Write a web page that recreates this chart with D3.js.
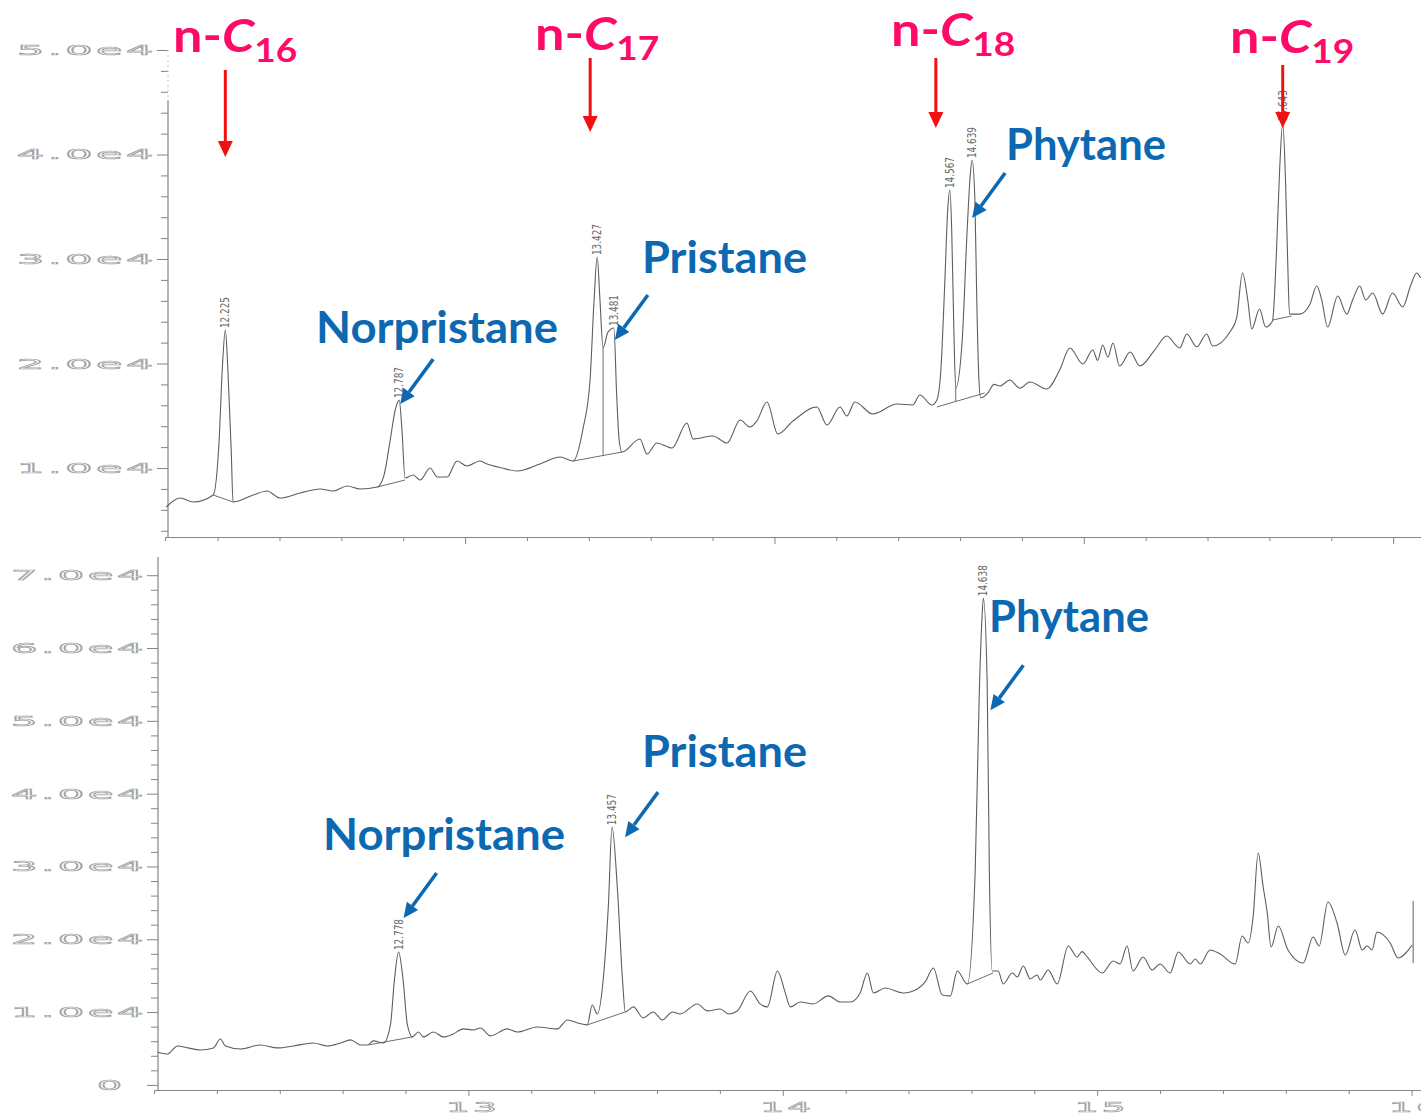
<!DOCTYPE html>
<html>
<head>
<meta charset="utf-8">
<script src="https://cdn.jsdelivr.net/npm/d3@7"></script>
<style>
  html, body { margin: 0; padding: 0; background: #fff; }
  svg { display: block; }
</style>
</head>
<body>
<svg id="chart" width="1421" height="1115"></svg>
<script>
// ---------------- data: upper chromatogram (retention time, min / abundance) ----------------
const topTime = [
  12.034, 12.079, 12.121, 12.186, 12.205, 12.215, 12.225, 12.234, 12.244, 12.250,
  12.315, 12.360, 12.402, 12.467, 12.531, 12.574, 12.619, 12.661, 12.716, 12.738,
  12.758, 12.774, 12.787, 12.796, 12.806, 12.832, 12.855, 12.887, 12.910, 12.942,
  12.974, 13.006, 13.048, 13.071, 13.120, 13.168, 13.242, 13.307, 13.349, 13.381,
  13.404, 13.417, 13.427, 13.436, 13.446, 13.462, 13.481, 13.490, 13.498, 13.507,
  13.565, 13.588, 13.620, 13.669, 13.717, 13.737, 13.801, 13.847, 13.889, 13.921,
  13.943, 13.976, 14.011, 14.060, 14.137, 14.170, 14.212, 14.234, 14.260, 14.318,
  14.396, 14.447, 14.470, 14.509, 14.525, 14.538, 14.551, 14.560, 14.567, 14.573,
  14.580, 14.586, 14.607, 14.623, 14.633, 14.639, 14.648, 14.654, 14.661, 14.667,
  14.690, 14.710, 14.729, 14.761, 14.793, 14.826, 14.880, 14.922, 14.955, 14.997,
  15.029, 15.045, 15.061, 15.078, 15.094, 15.116, 15.150, 15.181, 15.229, 15.268,
  15.310, 15.333, 15.365, 15.397, 15.417, 15.472, 15.494, 15.513, 15.530, 15.543,
  15.568, 15.588, 15.610, 15.623, 15.633, 15.643, 15.652, 15.659, 15.665, 15.698,
  15.730, 15.753, 15.769, 15.788, 15.821, 15.850, 15.869, 15.892, 15.911, 15.934,
  15.966, 15.998, 16.031, 16.057, 16.076, 16.089
];
const topSignal = [
  6270, 7130, 6750, 7420, 12680, 19380, 23200, 18900, 11720, 6750,
  7420, 7800, 7130, 7610, 7990, 7800, 8280, 7990, 8180, 9330,
  12680, 15550, 16500, 13640, 9040, 9330, 8850, 10000, 9140, 9140,
  10670, 10190, 10670, 10380, 10000, 9710, 10380, 11050, 10670, 13730,
  18420, 26080, 30190, 26080, 21500, 23000, 23400, 17000, 12680, 11530,
  12780, 11340, 12390, 11910, 14310, 12780, 13060, 12390, 14590, 13920,
  14500, 16320, 13250, 14500, 15840, 14110, 15840, 14980, 16320, 15170,
  16120, 16030, 16990, 16030, 16510, 19380, 27990, 34690, 36600, 32780,
  23200, 17650, 22250, 32780, 38040, 39470, 35640, 26080, 18420, 16700,
  17180, 18000, 17850, 18420, 17650, 18230, 17560, 19380, 21480, 19950,
  21290, 20300, 21770, 20600, 21960, 19760, 21100, 19760, 21290, 22630,
  21480, 22820, 21600, 22820, 21670, 23010, 24350, 28660, 26080, 23300,
  25220, 23490, 24070, 30860, 38520, 43000, 37560, 29900, 24730, 24730,
  25600, 27420, 26080, 23490, 26460, 24730, 26080, 27420, 26080, 26750,
  24730, 26750, 25410, 27510, 28660, 28180
];

// ---------------- data: lower chromatogram ----------------
const botTime = [
  12.011, 12.043, 12.075, 12.107, 12.148, 12.189, 12.211, 12.227, 12.275, 12.339,
  12.393, 12.444, 12.507, 12.552, 12.593, 12.625, 12.657, 12.679, 12.698, 12.730,
  12.752, 12.765, 12.778, 12.792, 12.806, 12.822, 12.841, 12.857, 12.889, 12.921,
  12.952, 12.984, 13.016, 13.038, 13.070, 13.124, 13.156, 13.219, 13.283, 13.315,
  13.347, 13.378, 13.394, 13.410, 13.429, 13.445, 13.457, 13.474, 13.490, 13.499,
  13.525, 13.556, 13.588, 13.617, 13.649, 13.674, 13.728, 13.760, 13.801, 13.827,
  13.855, 13.897, 13.928, 13.951, 13.983, 14.008, 14.024, 14.056, 14.097, 14.145,
  14.183, 14.215, 14.246, 14.269, 14.288, 14.326, 14.383, 14.428, 14.453, 14.479,
  14.507, 14.533, 14.555, 14.587, 14.612, 14.625, 14.634, 14.638, 14.650, 14.657,
  14.666, 14.685, 14.701, 14.730, 14.746, 14.765, 14.787, 14.809, 14.819, 14.844,
  14.873, 14.908, 14.936, 14.952, 14.968, 15.016, 15.051, 15.073, 15.095, 15.114,
  15.146, 15.175, 15.200, 15.232, 15.258, 15.296, 15.312, 15.328, 15.359, 15.391,
  15.439, 15.461, 15.480, 15.496, 15.512, 15.528, 15.541, 15.553, 15.576, 15.607,
  15.655, 15.687, 15.706, 15.734, 15.763, 15.789, 15.820, 15.843, 15.859, 15.874,
  15.890, 15.932, 15.957, 16.002
];
const botSignal = [
  4530, 4250, 5350, 5080, 4800, 5080, 6310, 5350, 4940, 5490,
  5080, 5350, 5760, 5350, 5760, 6180, 5490, 5490, 6040, 5760,
  8240, 14550, 18250, 14550, 8240, 6590, 7270, 6590, 7270, 6590,
  7000, 7690, 7550, 7820, 6730, 7690, 7270, 7960, 7690, 8920,
  8510, 8240, 10980, 9740, 14550, 24430, 35400, 26900, 14550, 10020,
  10710, 9200, 10020, 8920, 10020, 9740, 11120, 10160, 10430, 9740,
  10160, 12900, 11120, 10710, 15650, 12630, 10710, 11390, 11120, 12220,
  11390, 11390, 12630, 15370, 12630, 13310, 12630, 13180, 14140, 16060,
  12350, 12220, 15650, 13860, 29370, 53800, 64500, 66840, 55480, 29370,
  15650, 15650, 13860, 15370, 14820, 16330, 14550, 15100, 14410, 15780,
  13860, 19080, 17570, 18300, 17570, 15370, 17020, 16610, 19080, 15650,
  17570, 15780, 16610, 15370, 18250, 16610, 17300, 16610, 18530, 17980,
  16610, 20450, 19490, 23060, 31840, 27180, 23610, 18940, 21820, 18530,
  16740, 20310, 19080, 25120, 22230, 17840, 21270, 18530, 19080, 18530,
  21000, 19490, 17430, 19220
];

// integration baselines drawn under the integrated peaks: [t0, v0, t1, v1]
const topBaselines = [
  [12.186, 7420, 12.250, 6750],
  [12.716, 8180, 12.806, 8850],
  [13.349, 10670, 13.507, 11530],
  [14.525, 15840, 14.680, 17180],
  [15.610, 24160, 15.671, 24540]
];
const botBaselines = [
  [12.682, 5490, 12.822, 6590],
  [13.378, 8240, 13.499, 10020],
  [14.587, 13860, 14.669, 15370]
];
// perpendicular drops between co-eluting peaks (valley times)
const topDrops = [13.446, 14.586];
// run-end marker on the lower trace: [t, v0, v1]
const botEndMarker = [16.005, 16740, 25260];

// integrated peak retention times printed above the peaks
const topPeakTimes  = [12.225, 12.787, 13.427, 13.481, 14.567, 14.639, 15.643];
const topPeakLabels = ["12.225", "12.787", "13.427", "13.481", "14.567", "14.639", "15.643"];
const botPeakTimes  = [12.778, 13.457, 14.638];
const botPeakLabels = ["12.778", "13.457", "14.638"];

// axis ticks
const yTopMajor  = [10000, 20000, 30000, 40000, 50000];
const yTopLabels = ["1.0e4", "2.0e4", "3.0e4", "4.0e4", "5.0e4"];
const yBotMajor  = [0, 10000, 20000, 30000, 40000, 50000, 60000, 70000];
const yBotLabels = ["0", "1.0e4", "2.0e4", "3.0e4", "4.0e4", "5.0e4", "6.0e4", "7.0e4"];
const xMajor     = [13, 14, 15, 16];
const xLabels    = ["13", "14", "15", "16"];

// n-alkane markers (upper trace) and biomarker callouts
const alkanes = [
  { sub: "16", t: 12.225, dx: 0,   textX: 173,  textY: 52, top: 70, tip: 157 },
  { sub: "17", t: 13.427, dx: -7,  textX: 535,  textY: 50, top: 58, tip: 132 },
  { sub: "18", t: 14.567, dx: -14, textX: 891,  textY: 46, top: 58, tip: 128 },
  { sub: "19", t: 15.643, dx: 0,   textX: 1230, textY: 53, top: 65, tip: 128 }
];
const callouts = [
  { panel: "top", name: "Norpristane", t: 12.787, dx: 1, dy: 4,   textX: 316, textY: 343, w: 242 },
  { panel: "top", name: "Pristane",    t: 13.481, dx: 1, dy: 12,  textX: 642, textY: 273, w: 165 },
  { panel: "top", name: "Phytane",     t: 14.639, dx: 0, dy: 58,  textX: 1006, textY: 160, w: 160 },
  { panel: "bot", name: "Norpristane", t: 12.778, dx: 5, dy: -34, textX: 323, textY: 850, w: 242 },
  { panel: "bot", name: "Pristane",    t: 13.457, dx: 13, dy: 10, textX: 642, textY: 767, w: 165 },
  { panel: "bot", name: "Phytane",     t: 14.638, dx: 7, dy: 112, textX: 989, textY: 632, w: 160 }
];

// ---------------- scales ----------------
const xTop = d3.scaleLinear().domain([12.03, 16.09]).range([165, 1421]);
const yTop = d3.scaleLinear().domain([3400, 50000]).range([537, 50]);
const xBot = d3.scaleLinear().domain([12.0, 16.03]).range([154, 1421]);
const yBot = d3.scaleLinear().domain([-700, 72500]).range([1090, 557]);

const svg = d3.select("#chart");
svg.append("rect").attr("width", 1421).attr("height", 1115).attr("fill", "#fff");

const AXIS = "#858585";
const TRACE = "#5e5e5e";
const LABEL_FONT = "'DejaVu Sans', 'Liberation Sans', sans-serif";
const NOTE_FONT = "'Comic Sans MS', Lato, 'Open Sans', sans-serif";

const defs = svg.append("defs");
defs.append("clipPath").attr("id", "topClip")
  .append("rect").attr("x", 0).attr("y", 0).attr("width", 1421).attr("height", 548);

// stretched, hollow axis lettering
function styleTickText(sel, widthFor) {
  sel.attr("font-family", LABEL_FONT)
     .attr("font-size", 14)
     .attr("fill", "#fff")
     .attr("stroke", "#a4a4a4")
     .attr("stroke-width", 0.7)
     .attr("letter-spacing", 1.2)
     .attr("textLength", widthFor)
     .attr("lengthAdjust", "spacingAndGlyphs");
}

// ---------------- upper panel ----------------
const gTop = svg.append("g");

const yTopMinor = d3.range(4000, 50001, 2000).filter(v => v % 10000 !== 0);
gTop.append("g").attr("transform", "translate(168,0)")
  .call(d3.axisLeft(yTop).tickValues(yTopMinor).tickSize(7).tickFormat(""))
  .call(g => g.select(".domain").remove())
  .call(g => g.selectAll("line").attr("stroke", AXIS));
gTop.append("g").attr("transform", "translate(168,0)")
  .call(d3.axisLeft(yTop).tickValues(yTopMajor).tickSize(11).tickPadding(0)
        .tickFormat((d, i) => yTopLabels[i]))
  .call(g => g.select(".domain").remove())
  .call(g => g.selectAll("line").attr("stroke", AXIS))
  .call(g => styleTickText(g.selectAll("text"), 140));
gTop.append("line").attr("x1", 168).attr("x2", 168)
  .attr("y1", yTop(45200)).attr("y2", yTop(3400)).attr("stroke", AXIS).attr("stroke-width", 1.2);
gTop.append("line").attr("x1", 168).attr("x2", 168)
  .attr("y1", yTop(50000)).attr("y2", yTop(45200)).attr("stroke", "#c4c4c4")
  .attr("stroke-dasharray", "2,3");

const xMinor = d3.range(12.2, 16.01, 0.2).filter(v => Math.abs(v - Math.round(v)) > 1e-6);
gTop.append("g").attr("transform", "translate(0,537)")
  .call(d3.axisBottom(xTop).tickValues(xMinor).tickSize(4).tickFormat(""))
  .call(g => g.select(".domain").attr("stroke", AXIS))
  .call(g => g.selectAll("line").attr("stroke", AXIS));
gTop.append("g").attr("transform", "translate(0,537)").attr("clip-path", "url(#topClip)")
  .call(d3.axisBottom(xTop).tickValues(xMajor).tickSize(7).tickPadding(6)
        .tickFormat((d, i) => xLabels[i]))
  .call(g => g.select(".domain").remove())
  .call(g => g.selectAll("line").attr("stroke", AXIS))
  .call(g => styleTickText(g.selectAll("text").attr("dx", 4), 52));

const lineTop = d3.line().x(d => xTop(d[0])).y(d => yTop(d[1]))
  .curve(d3.curveMonotoneX);
gTop.append("path").datum(d3.zip(topTime, topSignal))
  .attr("d", lineTop).attr("fill", "none").attr("stroke", TRACE).attr("stroke-width", 1.1);

gTop.selectAll(".base").data(topBaselines).join("line")
  .attr("x1", d => xTop(d[0])).attr("y1", d => yTop(d[1]))
  .attr("x2", d => xTop(d[2])).attr("y2", d => yTop(d[3]))
  .attr("stroke", TRACE).attr("stroke-width", 0.9);
gTop.selectAll(".drop").data(topDrops).join("line")
  .attr("x1", t => xTop(t)).attr("x2", t => xTop(t))
  .attr("y1", t => yTop(topSignal[topTime.indexOf(t)]))
  .attr("y2", t => {
    const b = topBaselines.find(b => t >= b[0] && t <= b[2]);
    return yTop(b[1] + (b[3] - b[1]) * (t - b[0]) / (b[2] - b[0]));
  })
  .attr("stroke", TRACE).attr("stroke-width", 0.9);

// ---------------- lower panel ----------------
const gBot = svg.append("g");
gBot.append("rect").attr("x", 0).attr("y", 549).attr("width", 1421).attr("height", 566).attr("fill", "#fff");

const yBotMinor = d3.range(2000, 70001, 2000).filter(v => v % 10000 !== 0);
gBot.append("g").attr("transform", "translate(158,0)")
  .call(d3.axisLeft(yBot).tickValues(yBotMinor).tickSize(7).tickFormat(""))
  .call(g => g.select(".domain").remove())
  .call(g => g.selectAll("line").attr("stroke", AXIS));
gBot.append("g").attr("transform", "translate(158,0)")
  .call(d3.axisLeft(yBot).tickValues(yBotMajor).tickSize(11).tickPadding(0)
        .tickFormat((d, i) => yBotLabels[i]))
  .call(g => g.select(".domain").remove())
  .call(g => g.selectAll("line").attr("stroke", AXIS))
  .call(g => styleTickText(g.selectAll("text"), d => d === 0 ? 25 : 136))
  .call(g => g.selectAll("text").filter(d => d === 0).attr("x", -36).attr("letter-spacing", 0));
gBot.append("line").attr("x1", 158).attr("x2", 158)
  .attr("y1", yBot(72500)).attr("y2", yBot(-700)).attr("stroke", AXIS).attr("stroke-width", 1.2);

gBot.append("g").attr("transform", "translate(0,1090)")
  .call(d3.axisBottom(xBot).tickValues(xMinor).tickSize(4).tickFormat(""))
  .call(g => g.select(".domain").attr("stroke", AXIS))
  .call(g => g.selectAll("line").attr("stroke", AXIS));
gBot.append("g").attr("transform", "translate(0,1090)")
  .call(d3.axisBottom(xBot).tickValues(xMajor).tickSize(6).tickPadding(6)
        .tickFormat((d, i) => xLabels[i]))
  .call(g => g.select(".domain").remove())
  .call(g => g.selectAll("line").attr("stroke", AXIS))
  .call(g => styleTickText(g.selectAll("text").attr("dx", 4), 54));

const lineBot = d3.line().x(d => xBot(d[0])).y(d => yBot(d[1]))
  .curve(d3.curveMonotoneX);
gBot.append("path").datum(d3.zip(botTime, botSignal))
  .attr("d", lineBot).attr("fill", "none").attr("stroke", TRACE).attr("stroke-width", 1.1);
gBot.selectAll(".base").data(botBaselines).join("line")
  .attr("x1", d => xBot(d[0])).attr("y1", d => yBot(d[1]))
  .attr("x2", d => xBot(d[2])).attr("y2", d => yBot(d[3]))
  .attr("stroke", TRACE).attr("stroke-width", 0.9);
gBot.append("line")
  .attr("x1", xBot(botEndMarker[0])).attr("x2", xBot(botEndMarker[0]))
  .attr("y1", yBot(botEndMarker[1])).attr("y2", yBot(botEndMarker[2]))
  .attr("stroke", TRACE).attr("stroke-width", 1);

// ---------------- retention-time labels ----------------
function peakLabels(g, times, labels, traceT, traceV, xs, ys) {
  g.selectAll(".rt").data(times).join("text")
    .attr("transform", (t) => {
      const v = traceV[traceT.indexOf(t)];
      return `translate(${xs(t) + 4},${ys(v) - 2}) rotate(-90)`;
    })
    .attr("font-family", "'Liberation Sans Narrow', 'DejaVu Sans Condensed', 'Liberation Sans', sans-serif")
    .attr("font-size", 12)
    .attr("fill", "#6a6a6a")
    .attr("textLength", 31)
    .attr("lengthAdjust", "spacingAndGlyphs")
    .text((t, i) => labels[i]);
}
peakLabels(gTop, topPeakTimes, topPeakLabels, topTime, topSignal, xTop, yTop);
peakLabels(gBot, botPeakTimes, botPeakLabels, botTime, botSignal, xBot, yBot);

// ---------------- annotations ----------------
function arrow(g, x1, y1, x2, y2, color, width, headLen, headW) {
  const ang = Math.atan2(y2 - y1, x2 - x1);
  const bx = x2 - headLen * Math.cos(ang), by = y2 - headLen * Math.sin(ang);
  g.append("line").attr("x1", x1).attr("y1", y1).attr("x2", bx).attr("y2", by)
    .attr("stroke", color).attr("stroke-width", width);
  const px = -Math.sin(ang) * headW / 2, py = Math.cos(ang) * headW / 2;
  g.append("path")
    .attr("d", `M${x2},${y2}L${bx + px},${by + py}L${bx - px},${by - py}Z`)
    .attr("fill", color);
}

const gNote = svg.append("g");
const PINK = "#ff0a68", RED = "#f01010", BLUE = "#0b68b1";

alkanes.forEach(a => {
  const t = gNote.append("text")
    .attr("transform", `translate(${a.textX},${a.textY}) scale(1.16,1)`)
    .attr("font-family", NOTE_FONT).attr("font-weight", 700)
    .attr("font-size", 45).attr("fill", PINK);
  t.append("tspan").text("n-");
  t.append("tspan").attr("font-style", "italic").text("C");
  t.append("tspan").attr("font-size", 32).attr("dy", 10).text(a.sub);
  const x = xTop(a.t) + a.dx;
  arrow(gNote, x, a.top, x, a.tip, RED, 3, 16, 15);
});

callouts.forEach(c => {
  const xs = c.panel === "top" ? xTop : xBot;
  const ys = c.panel === "top" ? yTop : yBot;
  const T = c.panel === "top" ? topTime : botTime;
  const V = c.panel === "top" ? topSignal : botSignal;
  const tipX = xs(c.t) + c.dx, tipY = ys(V[T.indexOf(c.t)]) + c.dy;
  arrow(gNote, tipX + 33, tipY - 45, tipX, tipY, BLUE, 3.5, 15, 14);
  gNote.append("text")
    .attr("x", c.textX).attr("y", c.textY)
    .attr("font-family", NOTE_FONT).attr("font-weight", 700)
    .attr("font-size", 43).attr("fill", BLUE)
    .attr("textLength", c.w).attr("lengthAdjust", "spacingAndGlyphs")
    .text(c.name);
});
</script>
</body>
</html>
